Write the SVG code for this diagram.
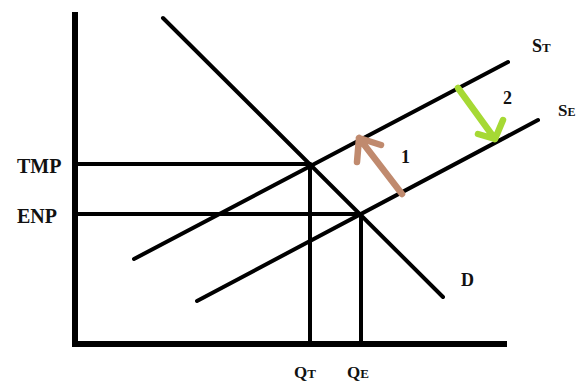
<svg xmlns="http://www.w3.org/2000/svg" width="578" height="383" viewBox="0 0 578 383">
<style>
.ln{stroke:#000;stroke-width:4;fill:none;stroke-linecap:round}
.ax{stroke:#000;stroke-width:6;fill:none;stroke-linecap:square}
.lbl{font-family:"Liberation Serif","Times New Roman",serif;font-weight:bold;fill:#111}
.sub{font-size:13px}
</style>
<rect width="578" height="383" fill="#fff"/>
<g id="connectors">
<line class="ax" x1="75" y1="15" x2="75" y2="344"/>
<line class="ax" x1="75" y1="344" x2="504" y2="344"/>
<line class="ln" x1="78" y1="164" x2="310" y2="164"/>
<line class="ln" x1="78" y1="214" x2="361" y2="214"/>
<line class="ln" x1="310" y1="164" x2="310" y2="342"/>
<line class="ln" x1="361" y1="214" x2="361" y2="342"/>
</g>
<g id="D"><line class="ln" x1="163" y1="18" x2="443" y2="297"/><text class="lbl" x="461" y="286" font-size="18">D</text></g>
<g id="ST"><line class="ln" x1="134" y1="259" x2="508" y2="62"/><text class="lbl" x="532" y="52" font-size="18">S<tspan class="sub">T</tspan></text></g>
<g id="SE"><line class="ln" x1="197" y1="301" x2="538" y2="120"/><text class="lbl" x="558" y="116" font-size="17">S<tspan font-size="12">E</tspan></text></g>
<g id="TMP"><text class="lbl" x="17" y="173" font-size="20">TMP</text></g>
<g id="ENP"><text class="lbl" x="17" y="223" font-size="20">ENP</text></g>
<g id="QT"><text class="lbl" x="294" y="378" font-size="17">Q<tspan class="sub">T</tspan></text></g>
<g id="QE"><text class="lbl" x="347" y="378" font-size="17">Q<tspan class="sub">E</tspan></text></g>
<g id="arrow1">
<path d="M402 194 L359 138 M381 145 L359 138 L357 162" stroke="#c08a6e" stroke-width="6.5" fill="none" stroke-linecap="round" stroke-linejoin="round"/>
<text class="lbl" x="401" y="163" font-size="18">1</text>
</g>
<g id="arrow2">
<path d="M458 88 L495 139 M478 134 L495 139 L503 120" stroke="#a6d934" stroke-width="6.5" fill="none" stroke-linecap="round" stroke-linejoin="round"/>
<text class="lbl" x="503" y="104" font-size="18">2</text>
</g>
</svg>
